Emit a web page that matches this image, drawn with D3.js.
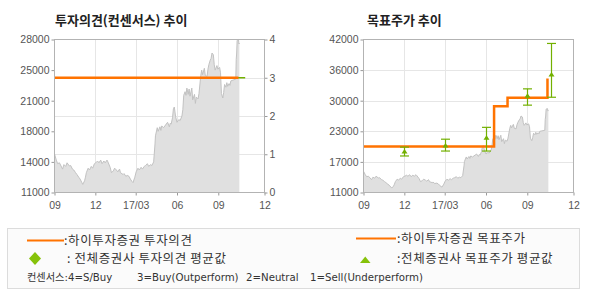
<!DOCTYPE html>
<html>
<head>
<meta charset="utf-8">
<script src="https://cdn.jsdelivr.net/npm/d3@7"></script>
<style>
  body { margin: 0; background: #fff; }
  text { font-family: 'Liberation Sans', Arial, sans-serif; }
</style>
</head>
<body>
<script>
// closing price
const price = [
  ['2016-09-01', 15300], ['2016-09-05', 14600], ['2016-09-08', 14200], ['2016-09-12', 14300],
  ['2016-09-19', 13600], ['2016-09-22', 14100], ['2016-09-26', 13900], ['2016-09-29', 14300],
  ['2016-10-04', 13950], ['2016-10-07', 14000], ['2016-10-11', 13600], ['2016-10-14', 13500],
  ['2016-10-18', 13200], ['2016-10-21', 13000], ['2016-10-25', 12700], ['2016-10-28', 12500],
  ['2016-11-01', 12100], ['2016-11-03', 11900], ['2016-11-07', 12300], ['2016-11-09', 12700],
  ['2016-11-11', 13200], ['2016-11-15', 13700], ['2016-11-18', 13500], ['2016-11-22', 13900],
  ['2016-11-25', 13700], ['2016-11-29', 14200], ['2016-12-02', 14300], ['2016-12-06', 14500],
  ['2016-12-09', 14300], ['2016-12-13', 14600], ['2016-12-16', 14200], ['2016-12-20', 14500],
  ['2016-12-23', 14300], ['2016-12-27', 14600], ['2016-12-29', 14400], ['2017-01-03', 13800],
  ['2017-01-06', 13200], ['2017-01-10', 13400], ['2017-01-13', 13700], ['2017-01-17', 13500],
  ['2017-01-20', 13300], ['2017-01-24', 13600], ['2017-01-26', 13200], ['2017-02-01', 13000],
  ['2017-02-03', 13100], ['2017-02-07', 12800], ['2017-02-10', 12900], ['2017-02-14', 12800],
  ['2017-02-17', 12500], ['2017-02-21', 12200], ['2017-02-23', 12100], ['2017-02-27', 12700],
  ['2017-03-02', 13300], ['2017-03-06', 13700], ['2017-03-09', 13500], ['2017-03-13', 13800],
  ['2017-03-16', 13600], ['2017-03-20', 13900], ['2017-03-23', 14000], ['2017-03-27', 14200],
  ['2017-03-30', 13900], ['2017-04-03', 14100], ['2017-04-06', 14000], ['2017-04-10', 14400],
  ['2017-04-13', 16400], ['2017-04-14', 17300], ['2017-04-18', 18200], ['2017-04-20', 17800],
  ['2017-04-24', 18300], ['2017-04-26', 17900], ['2017-04-28', 18400], ['2017-05-02', 18200],
  ['2017-05-08', 18600], ['2017-05-11', 18800], ['2017-05-15', 18300], ['2017-05-17', 18700],
  ['2017-05-19', 18600], ['2017-05-22', 19300], ['2017-05-24', 20300], ['2017-05-26', 20500],
  ['2017-05-29', 19400], ['2017-06-01', 18800], ['2017-06-05', 19100], ['2017-06-08', 19000],
  ['2017-06-12', 19500], ['2017-06-14', 20200], ['2017-06-16', 21800], ['2017-06-19', 22200],
  ['2017-06-21', 21800], ['2017-06-23', 22600], ['2017-06-26', 21900], ['2017-06-28', 22500],
  ['2017-06-30', 21700], ['2017-07-04', 22600], ['2017-07-06', 21300], ['2017-07-10', 21900],
  ['2017-07-12', 20900], ['2017-07-14', 21600], ['2017-07-18', 21400], ['2017-07-20', 22000],
  ['2017-07-24', 24000], ['2017-07-26', 24600], ['2017-07-28', 24100], ['2017-08-01', 24800],
  ['2017-08-03', 24000], ['2017-08-07', 23900], ['2017-08-09', 24700], ['2017-08-11', 25200],
  ['2017-08-14', 25700], ['2017-08-16', 25900], ['2017-08-18', 26500], ['2017-08-21', 26300],
  ['2017-08-23', 25200], ['2017-08-25', 24600], ['2017-08-29', 25100], ['2017-08-31', 24700],
  ['2017-09-04', 24900], ['2017-09-06', 24300], ['2017-09-08', 22000], ['2017-09-11', 21500],
  ['2017-09-13', 22100], ['2017-09-15', 23000], ['2017-09-18', 22700], ['2017-09-20', 23200],
  ['2017-09-22', 22800], ['2017-09-25', 23100], ['2017-09-27', 22900], ['2017-09-29', 23400],
  ['2017-10-10', 23600], ['2017-10-11', 25800], ['2017-10-12', 26500], ['2017-10-13', 27900],
  ['2017-10-16', 28000], ['2017-10-17', 27500], ['2017-10-18', 27600]
]

// investment opinion (consensus scale 0..4)
const opinion_hi = [['2016-09-01', 3], ['2017-10-16', 3]]
const opinion_avg = [['2016-09-01', 3], ['2017-10-31', 3]]

// target price
const target_hi = [['2016-09-01', 20300], ['2017-06-19', 28500], ['2017-07-19', 30200], ['2017-10-16', 34100]]
const target_avg_dates = ['2016-12-01', '2017-03-02', '2017-06-01', '2017-09-01', '2017-10-23']
const target_avg = [19300, 20500, 22100, 30600, 34900]
const target_min = [18400, 19400, 19400, 28700, 30300]
const target_max = [20200, 21800, 24200, 32000, 41200]

// axes
const x_domain = ['2016-09-01', '2017-12-13']
const x_tick_dates = ['2016-09-01', '2016-12-01', '2017-03-01', '2017-06-01', '2017-09-01', '2017-12-13']
const x_tick_labels = ['09', '12', '17/03', '06', '09', '12']
const left_price_ticks = [11000, 14400, 17800, 21200, 24600, 28000]
const left_price_labels = ['11000', '14000', '18000', '21000', '25000', '28000']
const opinion_ticks = [0, 1, 2, 3, 4]
const right_price_ticks = [11000, 17200, 23400, 29600, 35800, 42000]
const right_price_labels = ['11000', '17000', '23000', '30000', '36000', '42000']

const consensus_notes = ['컨센서스:4=S/Buy', '3=Buy(Outperform)', '2=Neutral', '1=Sell(Underperform)']

const ORANGE = '#ff7300'
const GREEN = '#72b000'
const GREEN_MARK = '#86c20a'
const KR_FONT = "'Noto Sans CJK KR', sans-serif"

const parse = d3.timeParse('%Y-%m-%d')
const price_rows = price.map(d => ({ date: parse(d[0]), v: d[1] }))

const svg = d3.select('body').append('svg')
  .attr('width', 590).attr('height', 300)

function make_x(box) {
  return d3.scaleTime()
    .domain(x_domain.map(parse))
    .range([box.x0, box.x1])
}

function draw_frame(g, box, x, h_grid) {
  // vertical grid at inner month ticks
  g.selectAll('.vgrid')
    .data(x_tick_dates.slice(1, -1).map(parse))
    .enter().append('line')
    .attr('x1', d => Math.round(x(d)) + 0.5).attr('x2', d => Math.round(x(d)) + 0.5)
    .attr('y1', box.y0).attr('y2', box.y1)
    .attr('stroke', '#e6e6e6')
  g.selectAll('.hgrid')
    .data(h_grid)
    .enter().append('line')
    .attr('x1', box.x0).attr('x2', box.x1)
    .attr('y1', d => Math.round(d) + 0.5).attr('y2', d => Math.round(d) + 0.5)
    .attr('stroke', '#e6e6e6')
}

function draw_price(g, box, x, y) {
  const area = d3.area()
    .x(d => x(d.date))
    .y0(box.y1)
    .y1(d => y(d.v))
  const line = d3.line()
    .x(d => x(d.date))
    .y(d => y(d.v))
  g.append('path').datum(price_rows)
    .attr('d', area).attr('fill', '#e0e0e0')
  g.append('path').datum(price_rows)
    .attr('d', line).attr('fill', 'none')
    .attr('stroke', '#c2c2c2').attr('stroke-width', 1)
}

function draw_axes(g, box, x, y_left, left_ticks, left_labels, y_right) {
  const ax_x = g.append('g')
    .attr('transform', `translate(0,${box.y1})`)
    .call(d3.axisBottom(x)
      .tickValues(x_tick_dates.map(parse))
      .tickFormat((d, i) => x_tick_labels[i])
      .tickSize(3).tickSizeOuter(0).tickPadding(4))
  const ax_l = g.append('g')
    .attr('transform', `translate(${box.x0},0)`)
    .call(d3.axisLeft(y_left)
      .tickValues(left_ticks)
      .tickFormat((d, i) => left_labels[i])
      .tickSize(3).tickSizeOuter(0).tickPadding(2))
  const axes = [ax_x, ax_l]
  if (y_right) {
    const ax_r = g.append('g')
      .attr('transform', `translate(${box.x1},0)`)
      .call(d3.axisRight(y_right)
        .tickValues(opinion_ticks)
        .tickFormat(d3.format('d'))
        .tickSize(3).tickSizeOuter(0).tickPadding(2))
    axes.push(ax_r)
  }
  axes.forEach(a => {
    a.select('.domain').remove()
    a.selectAll('line').attr('stroke', '#999')
    a.selectAll('text')
      .attr('fill', '#555')
      .style('font-size', '10.5px')
      .style('font-family', "'Liberation Sans', Arial, sans-serif")
  })
  ax_x.selectAll('text').attr('dy', '0.9em')
  g.append('rect')
    .attr('x', box.x0).attr('y', box.y0)
    .attr('width', box.x1 - box.x0).attr('height', box.y1 - box.y0)
    .attr('fill', 'none').attr('stroke', '#b3b3b3')
}

// ---- left panel: opinion ----
{
  const box = { x0: 54.5, x1: 264.5, y0: 39.5, y1: 192.5 }
  const g = svg.append('g')
  const x = make_x(box)
  const y_p = d3.scaleLinear().domain([11000, 28000]).range([box.y1, box.y0])
  const y_o = d3.scaleLinear().domain([0, 4]).range([box.y1, box.y0])
  draw_frame(g, box, x, [1, 2, 3].map(y_o))
  draw_price(g, box, x, y_p)
  const line = d3.line().x(d => x(parse(d[0]))).y(d => y_o(d[1]))
  g.append('path').datum(opinion_avg).attr('d', line)
    .attr('fill', 'none').attr('stroke', GREEN).attr('stroke-width', 1.5)
  g.append('path').datum(opinion_hi).attr('d', line)
    .attr('fill', 'none').attr('stroke', ORANGE).attr('stroke-width', 2.5)
  draw_axes(g, box, x, y_p, left_price_ticks, left_price_labels, y_o)
  svg.append('text')
    .attr('x', 55).attr('y', 25)
    .attr('font-size', 13).attr('font-weight', 'bold').attr('fill', '#222')
    .style('font-family', KR_FONT)
    .text('투자의견(컨센서스) 추이')
}

// ---- right panel: target price ----
{
  const box = { x0: 363.5, x1: 573.5, y0: 39.5, y1: 192.5 }
  const g = svg.append('g')
  const x = make_x(box)
  const y = d3.scaleLinear().domain([11000, 42000]).range([box.y1, box.y0])
  draw_frame(g, box, x, right_price_ticks.slice(1, -1).map(y))
  draw_price(g, box, x, y)
  const step = d3.line().curve(d3.curveStepAfter)
    .x(d => x(parse(d[0]))).y(d => y(d[1]))
  g.append('path').datum(target_hi).attr('d', step)
    .attr('fill', 'none').attr('stroke', ORANGE).attr('stroke-width', 2.5)
  const bars = target_avg_dates.map((d, i) => ({
    x: x(parse(d)), avg: y(target_avg[i]), lo: y(target_min[i]), hi: y(target_max[i])
  }))
  const eb = g.selectAll('.eb').data(bars).enter().append('g')
  eb.append('line')
    .attr('x1', d => Math.round(d.x) + 0.5).attr('x2', d => Math.round(d.x) + 0.5)
    .attr('y1', d => d.lo).attr('y2', d => d.hi)
    .attr('stroke', GREEN).attr('stroke-width', 1.2)
  eb.selectAll('.cap').data(d => [[d.x, d.lo], [d.x, d.hi]]).enter().append('line')
    .attr('x1', d => Math.round(d[0]) - 4).attr('x2', d => Math.round(d[0]) + 5)
    .attr('y1', d => d[1]).attr('y2', d => d[1])
    .attr('stroke', GREEN).attr('stroke-width', 1.2)
  eb.append('path')
    .attr('d', d => {
      const cx = Math.round(d.x) + 0.5
      return `M${cx - 3},${d.avg + 2}L${cx + 3},${d.avg + 2}L${cx},${d.avg - 2.5}Z`
    })
    .attr('fill', GREEN)
  draw_axes(g, box, x, y, right_price_ticks, right_price_labels, null)
  svg.append('text')
    .attr('x', 367).attr('y', 25)
    .attr('font-size', 13).attr('font-weight', 'bold').attr('fill', '#222')
    .style('font-family', KR_FONT)
    .text('목표주가 추이')
}

// ---- legend ----
{
  const lg = svg.append('g')
  lg.append('rect')
    .attr('x', 7.5).attr('y', 228.5).attr('width', 572).attr('height', 60)
    .attr('fill', '#fbfbfb').attr('stroke', '#dcdcdc')
  const kr = sel => sel
    .style('font-family', KR_FONT)
    .style('letter-spacing', '0.6px')
    .attr('fill', '#333')
    .attr('font-size', 12.5)
  lg.append('line').attr('x1', 27).attr('x2', 64).attr('y1', 240.5).attr('y2', 240.5)
    .attr('stroke', ORANGE).attr('stroke-width', 2)
  lg.append('line').attr('x1', 356).attr('x2', 396).attr('y1', 238.5).attr('y2', 238.5)
    .attr('stroke', ORANGE).attr('stroke-width', 2)
  lg.append('path').attr('d', 'M35,252L41,258.5L35,265L29,258.5Z').attr('fill', GREEN_MARK)
  lg.append('path').attr('d', 'M360,263L370.5,263L365.25,256.5Z').attr('fill', GREEN_MARK)
  lg.append('text').call(kr).attr('x', 64).attr('y', 244.5)
    .text(':하이투자증권 투자의견')
  lg.append('text').call(kr).attr('x', 67).attr('y', 262.5)
    .text(': 전체증권사 투자의견 평균값')
  lg.append('text').call(kr).attr('x', 397).attr('y', 243)
    .text(':하이투자증권 목표주가')
  lg.append('text').call(kr).attr('x', 397).attr('y', 263)
    .text(':전체증권사 목표주가 평균값')
  const note_x = [27, 137, 246, 310]
  lg.selectAll('.note').data(consensus_notes).enter().append('text')
    .style('font-family', "'DejaVu Sans', 'Noto Sans CJK KR', sans-serif")
    .attr('fill', '#333')
    .attr('x', (d, i) => note_x[i]).attr('y', 281).attr('font-size', 10.2)
    .text(d => d)
}
</script>
</body>
</html>
